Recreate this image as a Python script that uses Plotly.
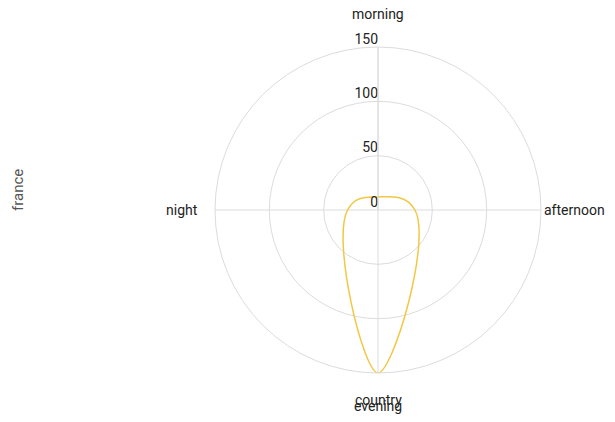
import math
import plotly.graph_objects as go

categories = ["morning", "afternoon", "evening", "night"]
values = [12, 34, 150, 28]
radial_ticks = [0, 50, 100, 150]
radial_tick_labels = ["0", "50", "100", "150"]
facet_label = "france"
axis_title = "country"

# line path runs from evening round the clock and back to evening
start = categories.index("evening")
order = list(range(start, len(categories))) + list(range(0, start)) + [start]
theta_path = [categories[i] for i in order]
r_path = [values[i] for i in order]

W, H = 615, 422
font = dict(family="Roboto", size=14, color="#222")
dom_x = [215 / W, 541 / W]
dom_y = [1 - 373 / H, 1 - 47 / H]

fig = go.Figure()
fig.add_trace(go.Scatterpolar(
    r=r_path, theta=theta_path, mode="lines",
    line=dict(color="#f2c744", width=1.5, shape="spline", smoothing=1.3),
    showlegend=False, hoverinfo="skip"))

# radial tick labels, above-left of each tick on the vertical axis
fig.add_trace(go.Scatterpolar(
    r=radial_ticks, theta=[categories[0]] * len(radial_ticks), mode="text",
    text=radial_tick_labels, textposition="top left", textfont=font,
    cliponaxis=False, showlegend=False, hoverinfo="skip"))

# angular category labels centred just outside the outer ring
cx = (dom_x[0] + dom_x[1]) / 2
cy = (dom_y[0] + dom_y[1]) / 2
label_radius_px = 196
annotations = []
for i, cat in enumerate(categories):
    ang = math.radians(i * 360 / len(categories))
    annotations.append(dict(
        text=cat, xref="paper", yref="paper",
        x=cx + label_radius_px * math.sin(ang) / W,
        y=cy + label_radius_px * math.cos(ang) / H,
        xanchor="center", yanchor="middle", showarrow=False, font=font))

annotations.append(dict(text=facet_label, x=18 / W, y=1 - 190 / H, xref="paper", yref="paper",
                        xanchor="center", yanchor="middle", showarrow=False, textangle=-90,
                        font=dict(family="Roboto", size=15, color="#555")))
annotations.append(dict(text=axis_title, x=cx, y=1 - 400 / H, xref="paper", yref="paper",
                        xanchor="center", yanchor="middle", showarrow=False, font=font))

fig.update_layout(
    width=W, height=H,
    margin=dict(l=0, r=0, t=0, b=0),
    paper_bgcolor="white",
    font=font,
    polar=dict(
        domain=dict(x=dom_x, y=dom_y),
        bgcolor="white",
        angularaxis=dict(
            type="category",
            categoryorder="array", categoryarray=categories,
            rotation=90, direction="clockwise",
            showline=True, linecolor="#dcdcdc", linewidth=1,
            gridcolor="#dcdcdc", ticks="", showticklabels=False),
        radialaxis=dict(
            range=[0, 150], tickvals=radial_ticks, angle=90,
            showline=True, linecolor="#dcdcdc", linewidth=1,
            gridcolor="#dcdcdc", ticks="", showticklabels=False),
    ),
    annotations=annotations,
)
fig.write_html("out.html", config={"displayModeBar": False},
               post_script="document.body.style.margin='0px';")
